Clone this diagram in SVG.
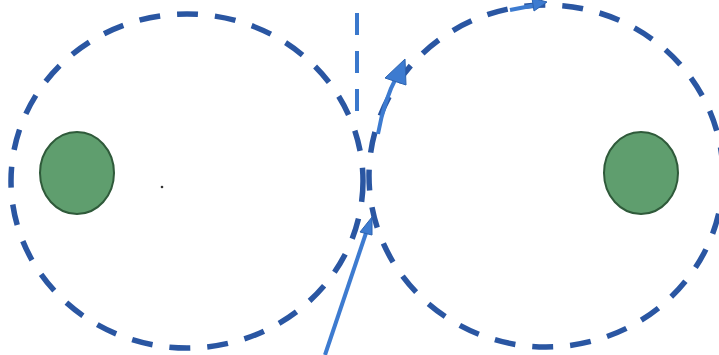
<svg xmlns="http://www.w3.org/2000/svg" width="719" height="355" viewBox="0 0 719 355">
<style>
.ring{fill:none;stroke:#2a56a2;stroke-width:5.5;stroke-dasharray:21 17}
.vline{fill:none;stroke:#3a78cc;stroke-width:4;stroke-dasharray:22 16}
.blob{fill:#5f9e6e;stroke:#2f5a3a;stroke-width:2}
.arr{fill:none;stroke:#3d7bd0;stroke-width:4}
.head{fill:#3d7bd0;stroke:#2c63b0;stroke-width:1}
</style>
<rect width="719" height="355" fill="#ffffff"/>
<g id="left-ring"><ellipse class="ring" cx="187" cy="181" rx="176" ry="167"/></g>
<g id="right-ring"><ellipse class="ring" cx="546" cy="176" rx="177" ry="171"/></g>
<g id="left-blob"><ellipse class="blob" cx="77" cy="173" rx="37" ry="41"/></g>
<g id="right-blob"><ellipse class="blob" cx="641" cy="173" rx="37" ry="41"/></g>
<g id="dot"><circle cx="162" cy="187" r="1.3" fill="#333"/></g>
<g id="connectors">
<line class="vline" x1="357" y1="13" x2="357" y2="118"/>
<path class="arr" d="M378,134 Q384,100 397,76" stroke-width="6.5"/>
<polygon class="head" points="405,59 385,78 406,85"/>
<path class="arr" d="M510,10 L536,5" stroke-width="5.5"/>
<polygon class="head" points="547,2 532,-2 534,11"/>
<line class="arr" x1="325" y1="355" x2="367" y2="230" stroke-width="3.5"/>
<polygon class="head" points="372,217 360,232 372,235"/>
</g>
</svg>
